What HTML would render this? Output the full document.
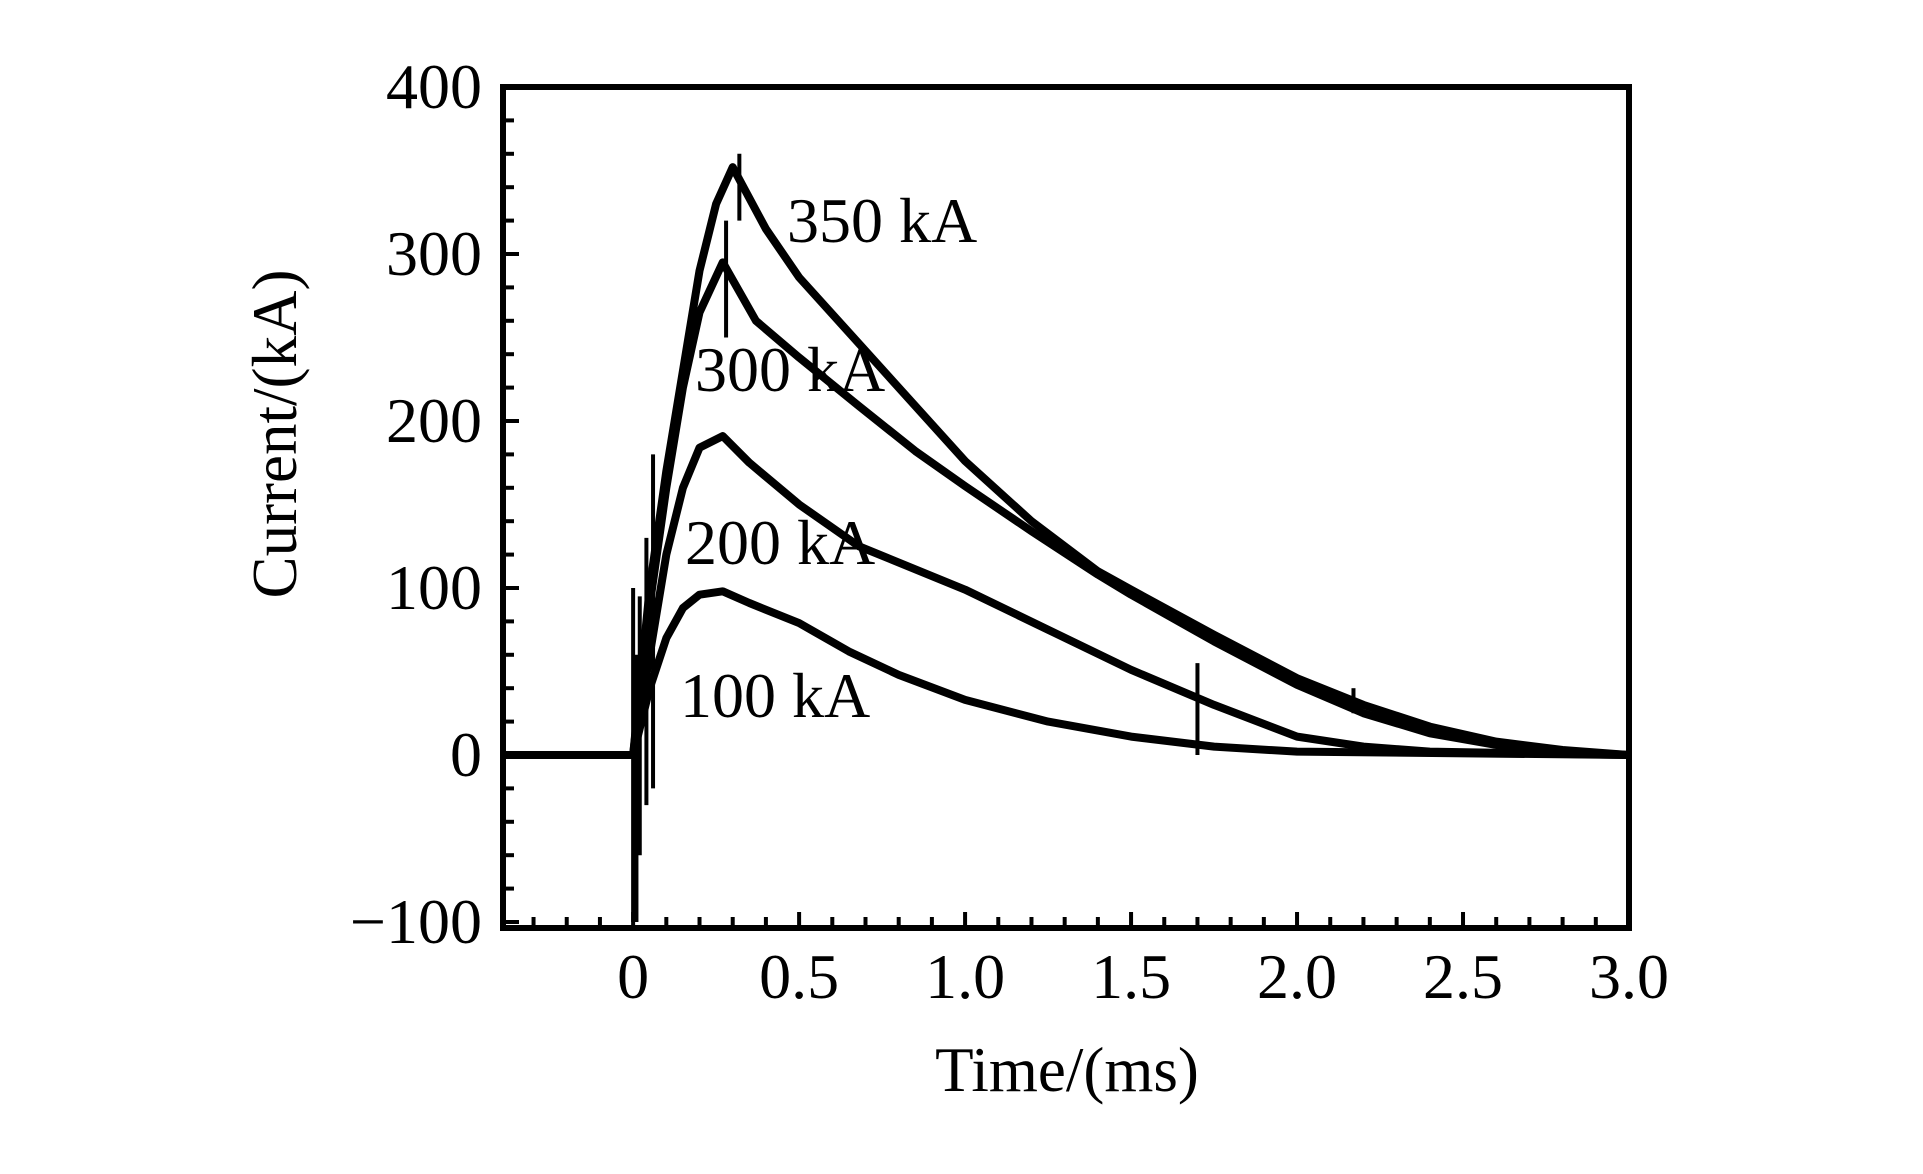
<!DOCTYPE html>
<html><head><meta charset="utf-8"><style>
body{margin:0;background:#fff;}
svg text{font-family:"Liberation Serif",serif;fill:#000;}
</style></head><body>
<svg width="1923" height="1169" viewBox="0 0 1923 1169">
<g id="plot"></g>
<g id="axes"></g>
<text x="1067" y="1091" font-size="63" text-anchor="middle">Time/(ms)</text>
<text transform="translate(296,434) rotate(-90)" font-size="63" text-anchor="middle">Current/(kA)</text>
<text x="787" y="242" font-size="64">350 kA</text>
<text x="695" y="391" font-size="64">300 kA</text>
<text x="685" y="564" font-size="64">200 kA</text>
<text x="680" y="717" font-size="64">100 kA</text>
</svg>
<script>
const xTicks=[0,0.5,1.0,1.5,2.0,2.5,3.0];
const xTickLabels=["0","0.5","1.0","1.5","2.0","2.5","3.0"];
const yTicks=[-100,0,100,200,300,400];
const yTickLabels=["\u2212100","0","100","200","300","400"];
const t350=[0,0.05,0.1,0.15,0.2,0.25,0.3,0.4,0.5,0.75,1.0,1.2,1.4,1.5,1.75,2.0,2.2,2.4,2.6,2.8,3.0];
const v350=[0,100,170,230,290,330,352,315,286,231,176,140,110,99,72,46,30,17,8,3,0];
const t300=[0,0.05,0.1,0.15,0.2,0.27,0.37,0.5,0.68,0.85,1.0,1.2,1.4,1.5,1.75,2.0,2.2,2.4,2.6,2.8,3.0];
const v300=[0,90,160,220,265,295,260,238,209,182,161,134,108,96,68,42,25,13,6,2,0];
const t200=[0,0.05,0.1,0.15,0.2,0.27,0.35,0.5,0.68,1.0,1.25,1.5,1.75,2.0,2.2,2.4,3.0];
const v200=[0,60,120,160,184,191,175,150,125,99,75,51,30,11,5,2,0];
const t100=[0,0.05,0.1,0.15,0.2,0.27,0.35,0.5,0.65,0.8,1.0,1.25,1.5,1.75,2.0,3.0];
const v100=[0,40,70,88,96,98,91,79,62,48,33,20,11,5,2,0];
const spikeT=[0.0,0.01,0.02,0.04,0.06,0.28,0.32,1.7,2.17];
const spikeLo=[-100,-100,-60,-30,-20,250,320,0,25];
const spikeHi=[100,60,95,130,180,320,360,55,40];
const X0=503,X1=1629,Y0=87,Y1=928,xmin=-0.392,xmax=3.0,ymin=-103.6,ymax=400;
const sx=v=>X0+(v-xmin)/(xmax-xmin)*(X1-X0);
const sy=v=>Y1-(v-ymin)/(ymax-ymin)*(Y1-Y0);
const NS="http://www.w3.org/2000/svg";
const plot=document.getElementById('plot'),axes=document.getElementById('axes');
function mk(tag,attrs,parent){const e=document.createElementNS(NS,tag);for(const k in attrs)e.setAttribute(k,attrs[k]);parent.appendChild(e);return e;}
const series=[[t350,v350,'series-350ka'],[t300,v300,'series-300ka'],[t200,v200,'series-200ka'],[t100,v100,'series-100ka']];
series.forEach(s=>{
  let d=`M${sx(xmin)},${sy(0)} L${sx(0)},${sy(0)}`;
  s[0].forEach((t,i)=>{d+=` L${sx(t)},${sy(s[1][i])}`;});
  const p=mk('path',{d:d,fill:'none',stroke:'#000','stroke-width':8,'stroke-linejoin':'round'},plot);
  
  
});
spikeT.forEach((t,i)=>{
  const l=mk('line',{x1:sx(t),x2:sx(t),y1:sy(spikeLo[i]),y2:sy(spikeHi[i]),stroke:'#000','stroke-width':4},plot);
  
  
});
const fr=mk('rect',{x:X0,y:Y0,width:X1-X0,height:Y1-Y0,fill:'none',stroke:'#000','stroke-width':6},axes);


for(let v=-0.3;v<=3.0001;v+=0.1){
  const major=Math.abs(v*2-Math.round(v*2))<1e-6;
  const l=mk('line',{x1:sx(v),x2:sx(v),y1:Y1,y2:Y1-(major?16:11),stroke:'#000','stroke-width':4},axes);
  
  
}
for(let v=-100;v<=400;v+=20){
  const major=v%100===0;
  const l=mk('line',{x1:X0,x2:X0+(major?16:11),y1:sy(v),y2:sy(v),stroke:'#000','stroke-width':4},axes);
  
  
}
xTicks.forEach((v,i)=>{
  const t=mk('text',{x:sx(v),y:998,'font-size':64,'text-anchor':'middle'},axes);
  t.textContent=xTickLabels[i];
  
  
});
yTicks.forEach((v,i)=>{
  const t=mk('text',{x:482,y:sy(v)+21,'font-size':64,'text-anchor':'end'},axes);
  t.textContent=yTickLabels[i];
  
  
});
</script>
</body></html>
